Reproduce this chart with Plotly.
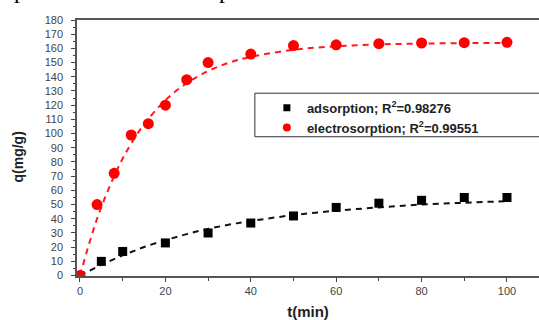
import plotly.graph_objects as go

# adsorption data (black squares)
t_ads = [0, 5, 10, 20, 30, 40, 50, 60, 70, 80, 90, 100]
q_ads = [0, 10, 17, 23, 30, 37, 42, 48, 51, 53, 55, 55]

# electrosorption data (red circles)
t_el = [0, 4, 8, 12, 16, 20, 25, 30, 40, 50, 60, 70, 80, 90, 100]
q_el = [0, 50, 72, 99, 107, 120, 138, 150, 156, 162, 162.5, 163.3, 163.8, 164, 164.3]

# fitted curves
t_fit = [0, 2, 4, 6, 8, 10, 12, 15, 20, 25, 30, 35, 40, 50, 60, 70, 80, 90, 100]
q_fit_el = [0, 21, 40, 56, 70, 82.5, 93, 106.5, 123.5, 135.5, 144, 150, 154, 159, 161.5, 162.8, 163.4, 163.7, 163.9]
q_fit_ads = [0, 3.1, 6.1, 8.9, 11.6, 14.2, 16.6, 20.1, 24.9, 29.2, 32.9, 35.9, 38.4, 42.6, 45.7, 48, 50, 51.3, 52.4]

names = ["<b>adsorption; R<sup>2</sup>=0.98276</b>", "<b>electrosorption; R<sup>2</sup>=0.99551</b>"]

fig = go.Figure()
fig.add_trace(go.Scatter(x=t_fit, y=q_fit_ads, mode="lines", showlegend=False,
                         line=dict(color="#111111", width=2, dash="6px,5px", shape="spline")))
fig.add_trace(go.Scatter(x=t_fit, y=q_fit_el, mode="lines", showlegend=False,
                         line=dict(color="#ff1a1a", width=2, dash="6px,5px", shape="spline")))
fig.add_trace(go.Scatter(x=t_ads, y=q_ads, mode="markers", showlegend=False,
                         marker=dict(symbol="square", size=9, color="black")))
fig.add_trace(go.Scatter(x=t_el, y=q_el, mode="markers", showlegend=False,
                         marker=dict(symbol="circle", size=11, color="#ff0000")))
# legend entries (smaller symbols, as in the reference legend)
fig.add_trace(go.Scatter(x=[None], y=[None], mode="markers", name=names[0],
                         marker=dict(symbol="square", size=7, color="black")))
fig.add_trace(go.Scatter(x=[None], y=[None], mode="markers", name=names[1],
                         marker=dict(symbol="circle", size=8, color="#ff0000")))

# legend frame (extends past the right edge as in the cropped reference)
fig.add_shape(type="rect", xref="paper", yref="paper", x0=0.385, x1=1.05, y0=0.544, y1=0.714,
              line=dict(color="#333333", width=1), fillcolor="rgba(0,0,0,0)")

# cropped text fragments at the very top
for xp in [20, 225]:
    fig.add_annotation(text="p", xref="paper", yref="paper", x=(xp - 77) / 462, y=1.0,
                       yshift=15, xanchor="center", yanchor="bottom", showarrow=False,
                       font=dict(family="Liberation Serif", size=24, color="black"))

# y-axis title placed as in the reference
fig.add_annotation(text="<b>q(mg/g)</b>", xref="paper", yref="paper", x=(17 - 77) / 462,
                   y=(276.5 - 158) / 256, xanchor="center", yanchor="middle", textangle=-90,
                   showarrow=False, font=dict(size=14, color="#222222"))

fig.update_layout(
    width=539, height=320,
    margin=dict(l=77, r=0, t=20, b=44),
    plot_bgcolor="white", paper_bgcolor="white",
    font=dict(family="Liberation Sans, Arial", color="#333333"),
    showlegend=True,
    legend=dict(x=0.411, y=0.716, xanchor="left", yanchor="top", bgcolor="rgba(0,0,0,0)",
                borderwidth=0, font=dict(size=13, color="#222222", family="Liberation Sans, Arial"),
                tracegroupgap=0),
    xaxis=dict(range=[-0.7, 107.5], tickmode="array", tickvals=[0, 20, 40, 60, 80, 100],
               ticks="outside", ticklen=4, tickwidth=1.2, tickcolor="#444444",
               minor=dict(tickvals=[10, 30, 50, 70, 90], ticks="outside", ticklen=3, tickcolor="#444444"),
               showline=True, linecolor="#555555", linewidth=1.5, mirror=True,
               showgrid=False, zeroline=False,
               tickfont=dict(size=11, color="#444444"),
               title=dict(text="<b>t(min)</b>", font=dict(size=15, color="#222222"), standoff=11)),
    yaxis=dict(range=[-0.3, 180], tickmode="array", tickvals=list(range(0, 181, 10)),
               ticks="outside", ticklen=4, tickwidth=1.2, tickcolor="#444444",
               minor=dict(tickvals=list(range(5, 180, 10)), ticks="outside", ticklen=2, tickcolor="#444444"),
               showline=True, linecolor="#555555", linewidth=1.5, mirror=False,
               showgrid=False, zeroline=False, ticklabelstandoff=6,
               tickfont=dict(size=11, color="#444444")),
)

fig.write_html("out.html")
